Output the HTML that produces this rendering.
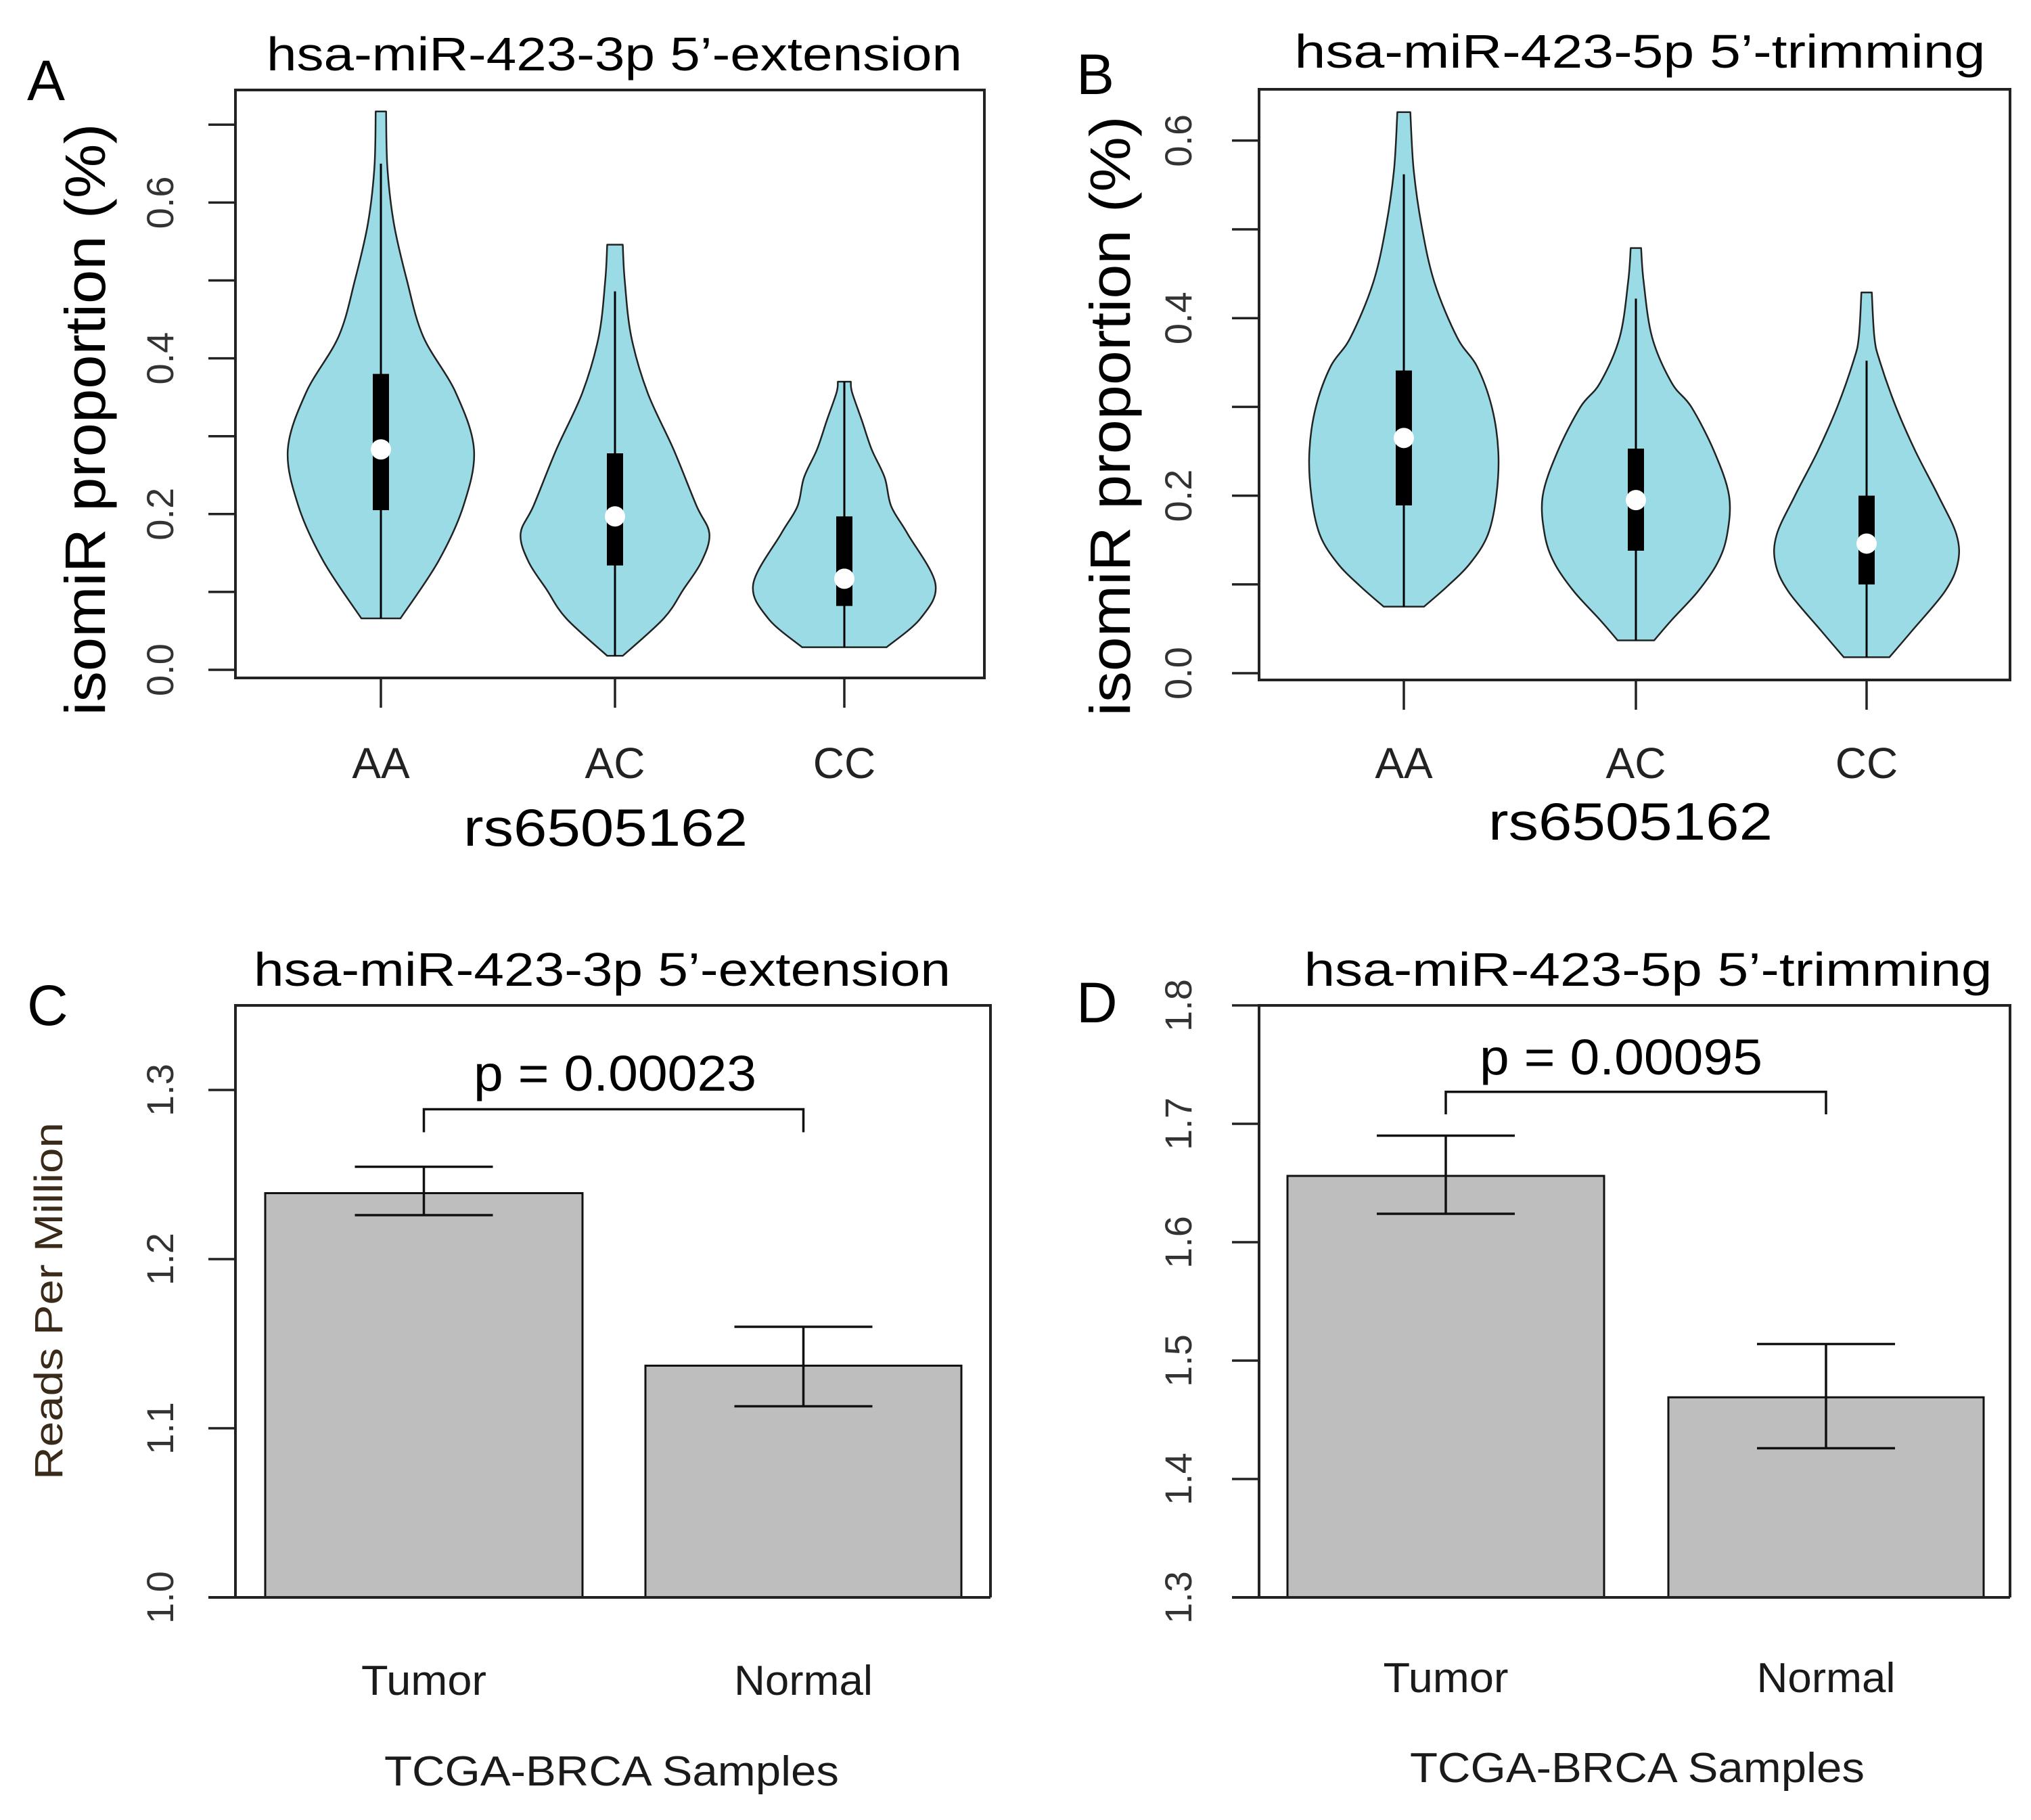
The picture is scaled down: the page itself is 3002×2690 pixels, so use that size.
<!DOCTYPE html>
<html><head><meta charset="utf-8">
<style>
html,body{margin:0;padding:0;background:#fff;}
svg{display:block;}
text{font-family:"Liberation Sans",sans-serif;}
</style></head>
<body>
<svg id="fig" xmlns="http://www.w3.org/2000/svg" width="3002" height="2690" viewBox="0 0 3002 2690">
<rect x="0" y="0" width="3002" height="2690" fill="#fff"/>
</svg>
<script>
// ---------- DATA ----------
const genotypes = ["AA","AC","CC"];
// Panel A violins: value levels and relative density (half width)
const aAAvals=[0.066,0.139,0.211,0.283,0.356,0.428,0.50,0.573,0.645,0.717];
const aAAdens=[0.30,0.88,1.27,1.43,1.15,0.65,0.40,0.20,0.10,0.08];
const aACvals=[0.018,0.066,0.103,0.139,0.175,0.211,0.283,0.356,0.428,0.50,0.546];
const aACdens=[0.12,0.75,1.05,1.33,1.45,1.25,0.90,0.50,0.25,0.15,0.12];
const aCCvals=[0.029,0.066,0.11,0.175,0.21,0.247,0.283,0.32,0.356,0.37];
const aCCdens=[0.65,1.17,1.40,0.97,0.72,0.62,0.42,0.27,0.12,0.10];
const aMedian=[0.283,0.197,0.117];
const aQ1=[0.205,0.134,0.082];
const aQ3=[0.38,0.278,0.197];
const aWhiskerLo=[0.066,0.018,0.029];
const aWhiskerHi=[0.65,0.486,0.37];
const aTicks=[0,0.1,0.2,0.3,0.4,0.5,0.6,0.7];
const aTickLabels=["0.0","","0.2","","0.4","","0.6",""];
// Panel B violins
const bAAvals=[0.075,0.098,0.124,0.156,0.2,0.25,0.30,0.346,0.378,0.44,0.505,0.568,0.632];
const bAAdens=[0.31,0.67,1.02,1.29,1.42,1.45,1.35,1.12,0.82,0.47,0.27,0.15,0.10];
const bACvals=[0.037,0.06,0.092,0.124,0.156,0.2,0.25,0.30,0.327,0.378,0.44,0.479];
const bACdens=[0.28,0.55,0.95,1.25,1.40,1.43,1.20,0.85,0.55,0.25,0.12,0.08];
const bCCvals=[0.018,0.048,0.092,0.124,0.156,0.2,0.25,0.30,0.352,0.378,0.429];
const bCCdens=[0.35,0.70,1.20,1.40,1.38,1.10,0.75,0.45,0.20,0.12,0.08];
const bMedian=[0.265,0.195,0.146];
const bQ1=[0.189,0.138,0.10];
const bQ3=[0.341,0.253,0.20];
const bWhiskerLo=[0.075,0.037,0.018];
const bWhiskerHi=[0.562,0.422,0.352];
const bTicks=[0,0.1,0.2,0.3,0.4,0.5,0.6];
const bTickLabels=["0.0","","0.2","","0.4","","0.6"];
// Panel C / D bars
const sampleGroups=["Tumor","Normal"];
const cMeans=[1.239,1.137];
const cErrHi=[1.2546,1.160];
const cErrLo=[1.226,1.113];
const cTicks=[1.0,1.1,1.2,1.3];
const cTickLabels=["1.0","1.1","1.2","1.3"];
const dMeans=[1.656,1.469];
const dErrHi=[1.690,1.514];
const dErrLo=[1.624,1.426];
const dTicks=[1.3,1.4,1.5,1.6,1.7,1.8];
const dTickLabels=["1.3","1.4","1.5","1.6","1.7","1.8"];
const cPval="p = 0.00023";
const dPval="p = 0.00095";

// ---------- DRAWING ----------
const NS="http://www.w3.org/2000/svg";
const svg=document.getElementById('fig');
function mk(tag,attrs,parent){const e=document.createElementNS(NS,tag);for(const k in attrs)e.setAttribute(k,attrs[k]);(parent||svg).appendChild(e);return e;}
function txt(str,x,y,size,opts,parent){
  opts=opts||{};
  const t=mk('text',{x:x,y:y,'font-size':size,fill:opts.fill||'#000','text-anchor':opts.anchor||'middle'},parent);
  if(opts.len){t.setAttribute('textLength',opts.len);t.setAttribute('lengthAdjust','spacingAndGlyphs');}
  if(opts.rot){t.setAttribute('transform','rotate(-90 '+x+' '+y+')');}
  t.textContent=str;return t;
}
// Catmull-Rom spline through points -> cubic bezier segments (no initial M)
function smoothSeg(p){
  let d='';
  for(let i=0;i<p.length-1;i++){
    const p0=p[i-1]||p[i],p1=p[i],p2=p[i+1],p3=p[i+2]||p[i+1];
    const c1=[p1[0]+(p2[0]-p0[0])/6,p1[1]+(p2[1]-p0[1])/6];
    const c2=[p2[0]-(p3[0]-p1[0])/6,p2[1]-(p3[1]-p1[1])/6];
    d+=` C${c1[0].toFixed(1)},${c1[1].toFixed(1)} ${c2[0].toFixed(1)},${c2[1].toFixed(1)} ${p2[0].toFixed(1)},${p2[1].toFixed(1)}`;
  }
  return d;
}

function violinPanel(cfg){
  const g=mk('g',{});
  
  
  const y=v=>cfg.y0-v*cfg.perUnit;
  cfg.vals.forEach((vals,i)=>{
    const cx=cfg.cx[i], dens=cfg.dens[i];
    const right=vals.map((v,j)=>[cx+dens[j]*cfg.wScale,y(v)]);
    const left=vals.map((v,j)=>[cx-dens[j]*cfg.wScale,y(v)]).reverse();
    let d=`M${right[0][0].toFixed(1)},${right[0][1].toFixed(1)}`+smoothSeg(right);
    d+=` L${left[0][0].toFixed(1)},${left[0][1].toFixed(1)}`+smoothSeg(left)+' Z';
    const poly=mk('path',{d:d,fill:'#9bdbe6',stroke:'#222','stroke-width':2.5,'stroke-linejoin':'round'},g);
    
    
    const wl=mk('line',{x1:cx,x2:cx,y1:y(cfg.wLo[i]),y2:y(cfg.wHi[i]),stroke:'#000','stroke-width':3},g);
    
    
    const bx=mk('rect',{x:cx-12,y:y(cfg.q3[i]),width:24,height:y(cfg.q1[i])-y(cfg.q3[i]),fill:'#000'},g);
    
    
    const md=mk('circle',{cx:cx,cy:y(cfg.med[i]),r:15,fill:'#fff'},g);
    
    
    mk('line',{x1:cx,x2:cx,y1:cfg.bottom,y2:cfg.bottom+44,stroke:'#222','stroke-width':3.5},g);
    const xl=txt(genotypes[i],cx,1150,64,{fill:'#222'},g);
    
    
  });
  const fr=mk('rect',{x:cfg.left,y:cfg.top,width:cfg.right-cfg.left,height:cfg.bottom-cfg.top,fill:'none',stroke:'#222','stroke-width':4},g);
  
  
  cfg.ticks.forEach((t,i)=>{
    mk('line',{x1:cfg.left-40,x2:cfg.left,y1:y(t),y2:y(t),stroke:'#222','stroke-width':3.5},g);
    if(cfg.tickLabels[i]){const tl=txt(cfg.tickLabels[i],cfg.tickX,y(t),56,{fill:'#333',rot:true},g);
      
      }
  });
  mk('line',{x1:cfg.left,x2:cfg.left,y1:y(cfg.ticks[0]),y2:y(cfg.ticks[cfg.ticks.length-1]),stroke:'#222','stroke-width':3.5},g);
  const t=txt(cfg.title,cfg.titleX,cfg.titleY,70,{len:cfg.titleLen},g);
  
  
  const L=txt(cfg.letter,cfg.letterX,cfg.letterY,84,{anchor:'start'},g);
  
  
  const yl=txt('isomiR proportion (%)',cfg.ylabX,cfg.ylabY,84,{rot:true,len:cfg.ylabLen},g);
  
  
  const xt=txt('rs6505162',cfg.xlabX,cfg.xlabY,78,{len:420},g);
  
  
}

function barPanel(cfg){
  const g=mk('g',{});
  
  
  const y=v=>cfg.axisY-(v-cfg.ymin)*cfg.perUnit;
  cfg.means.forEach((m,i)=>{
    const x0=cfg.barL[i], x1=cfg.barR[i], cx=(x0+x1)/2;
    const b=mk('rect',{x:x0,y:y(m),width:x1-x0,height:cfg.axisY-y(m),fill:'#bebebe',stroke:'#111','stroke-width':3},g);
    
    
    const eg=mk('g',{stroke:'#111','stroke-width':3.5},g);
    
    
    mk('line',{x1:cx,x2:cx,y1:y(cfg.hi[i]),y2:y(cfg.lo[i])},eg);
    mk('line',{x1:cx-102,x2:cx+102,y1:y(cfg.hi[i]),y2:y(cfg.hi[i])},eg);
    mk('line',{x1:cx-102,x2:cx+102,y1:y(cfg.lo[i]),y2:y(cfg.lo[i])},eg);
    const xl=txt(sampleGroups[i],cx,cfg.catY,62,{fill:'#1a1a1a',len:i==0?185:205},g);
    
    
  });
  const fr=mk('path',{d:`M${cfg.left},${cfg.axisY} V${cfg.top} H${cfg.right} V${cfg.axisY}`,fill:'none',stroke:'#222','stroke-width':4},g);
  
  
  mk('line',{x1:cfg.left-40,x2:cfg.right,y1:cfg.axisY,y2:cfg.axisY,stroke:'#222','stroke-width':4},g);
  cfg.ticks.forEach((t,i)=>{
    mk('line',{x1:cfg.left-40,x2:cfg.left,y1:y(t),y2:y(t),stroke:'#222','stroke-width':3.5},g);
    const tl=txt(cfg.tickLabels[i],cfg.tickX,y(t),56,{fill:'#333',rot:true},g);
    
    
  });
  const c0=(cfg.barL[0]+cfg.barR[0])/2, c1=(cfg.barL[1]+cfg.barR[1])/2;
  const br=mk('path',{d:`M${c0},${y(cfg.brLo)} V${y(cfg.brHi)} H${c1} V${y(cfg.brLo)}`,fill:'none',stroke:'#111','stroke-width':3.5},g);
  
  
  const pv=txt(cfg.pval,cfg.pX,cfg.pY,74,{len:418},g);
  
  
  const t=txt(cfg.title,cfg.titleX,1457,70,{len:cfg.titleLen},g);
  
  
  const L=txt(cfg.letter,cfg.letterX,cfg.letterY,84,{anchor:'start'},g);
  
  
  if(cfg.ylab){const yl=txt(cfg.ylab,92,1923,58,{rot:true,len:528,fill:'#3a2a1a'},g);
    
    }
  const xt=txt('TCGA-BRCA Samples',cfg.xlabX,cfg.xlabY,62,{len:672,fill:'#1a1a1a'},g);
  
  
}

violinPanel({name:'panel-a',left:348,right:1455,top:133,bottom:1002,y0:990,perUnit:1151,
  cx:[563,909,1248],vals:[aAAvals,aACvals,aCCvals],dens:[aAAdens,aACdens,aCCdens],wScale:96.2,
  med:aMedian,q1:aQ1,q3:aQ3,wLo:aWhiskerLo,wHi:aWhiskerHi,ticks:aTicks,tickLabels:aTickLabels,tickX:256,
  title:'hsa-miR-423-3p 5\u2019-extension',titleX:908,titleY:104,titleLen:1028,letter:'A',letterX:40,letterY:148,
  ylabX:155,ylabY:620,ylabLen:875,xlabX:895,xlabY:1250});
violinPanel({name:'panel-b',left:1861,right:2971,top:132,bottom:1005,y0:995,perUnit:1312,
  cx:[2075,2418,2759],vals:[bAAvals,bACvals,bCCvals],dens:[bAAdens,bACdens,bCCdens],wScale:96.3,
  med:bMedian,q1:bQ1,q3:bQ3,wLo:bWhiskerLo,wHi:bWhiskerHi,ticks:bTicks,tickLabels:bTickLabels,tickX:1761,
  title:'hsa-miR-423-5p 5\u2019-trimming',titleX:2424,titleY:100,titleLen:1021,letter:'B',letterX:1591,letterY:139,
  ylabX:1670,ylabY:615,ylabLen:887,xlabX:2410,xlabY:1241});
barPanel({name:'panel-c',left:348,right:1464,top:1486,axisY:2361,ymin:1.0,perUnit:2500,
  barL:[392,954],barR:[861,1421],means:cMeans,hi:cErrHi,lo:cErrLo,ticks:cTicks,tickLabels:cTickLabels,tickX:256,
  brHi:1.2886,brLo:1.275,pval:cPval,pX:909,pY:1612,catY:2505,
  title:'hsa-miR-423-3p 5\u2019-extension',titleX:890,titleLen:1030,letter:'C',letterX:40,letterY:1515,
  ylab:'Reads Per Million',xlabX:904,xlabY:2639});
barPanel({name:'panel-d',left:1861,right:2971,top:1486,axisY:2361,ymin:1.3,perUnit:1750,
  barL:[1903,2466],barR:[2371,2932],means:dMeans,hi:dErrHi,lo:dErrLo,ticks:dTicks,tickLabels:dTickLabels,tickX:1761,
  brHi:1.727,brLo:1.708,pval:dPval,pX:2396,pY:1588,catY:2501,
  title:'hsa-miR-423-5p 5\u2019-trimming',titleX:2436,titleLen:1017,letter:'D',letterX:1591,letterY:1511,
  ylab:null,xlabX:2420,xlabY:2634});
</script>
</body></html>
